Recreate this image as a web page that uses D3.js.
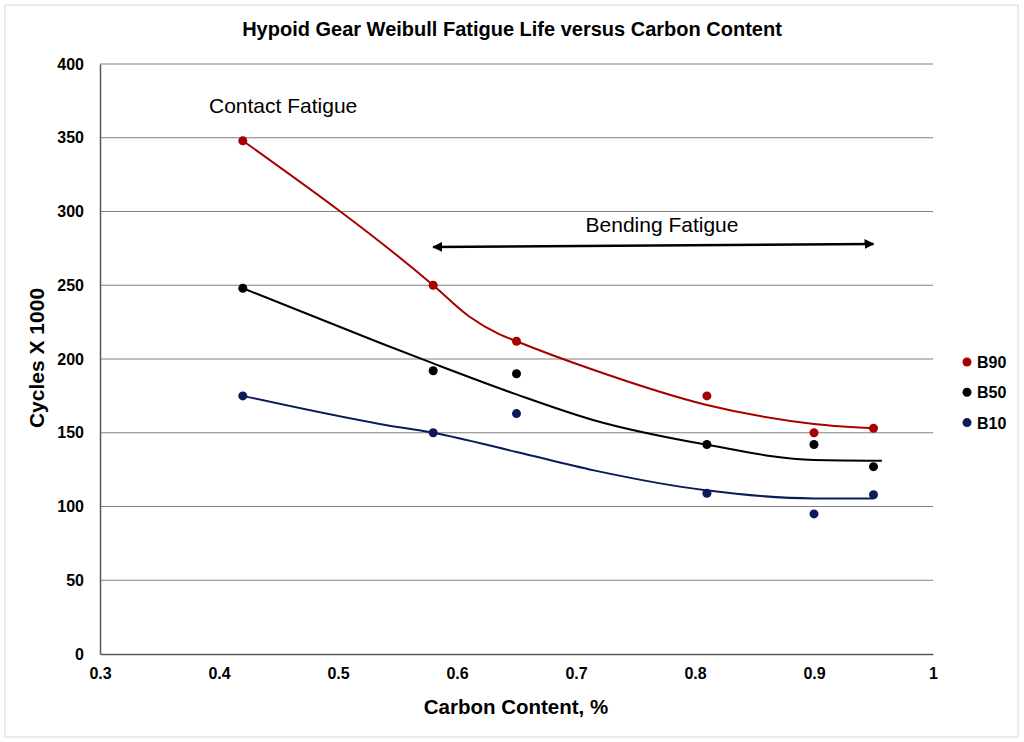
<!DOCTYPE html>
<html>
<head>
<meta charset="utf-8">
<script src="https://cdn.jsdelivr.net/npm/d3@7"></script>
<style>
  body { margin: 0; background: #fff; }
  svg { display: block; }
</style>
</head>
<body>
<div id="chart-area"></div>
<script>
// measured points
var carbon = [0.42, 0.58, 0.65, 0.81, 0.9, 0.95];
var b90 = [348, 250, 212, 175, 150, 153];
var b50 = [248, 192, 190, 142, 142, 127];
var b10 = [175, 150, 163, 109, 95, 108];

// hand drawn trend lines
var b90CurveX = [0.42, 0.58, 0.61, 0.635, 0.65, 0.715, 0.809, 0.90, 0.95];
var b90CurveY = [348, 250, 229, 217, 212, 192.5, 169, 156, 153];
var b50CurveX = [0.42, 0.535, 0.58, 0.65, 0.715, 0.809, 0.90, 0.957];
var b50CurveY = [248, 211, 197, 176, 158.5, 142, 131.5, 131];
var b10CurveX = [0.42, 0.535, 0.58, 0.65, 0.715, 0.809, 0.90, 0.95];
var b10CurveY = [175, 156, 150, 137, 124.5, 111, 105.5, 105.5];

var seriesNames = ["B90", "B50", "B10"];
var seriesColors = ["#a80000", "#000000", "#0b1a58"];
var xTicks = [0.3, 0.4, 0.5, 0.6, 0.7, 0.8, 0.9, 1];
var yTicks = [0, 50, 100, 150, 200, 250, 300, 350, 400];

var arial = "'Liberation Sans', Arial, sans-serif";

var svg = d3.select("#chart-area").append("svg")
    .attr("width", 1024)
    .attr("height", 742);

svg.append("rect")
    .attr("x", 5).attr("y", 5)
    .attr("width", 1013).attr("height", 732)
    .attr("fill", "#fff")
    .attr("stroke", "#d9d9d9");

var x = d3.scaleLinear().domain([0.3, 1]).range([100, 933]);
var y = d3.scaleLinear().domain([0, 400]).range([654, 64]);

// grid
svg.append("g")
    .selectAll("line").data(yTicks.filter((d) => d > 0))
    .enter().append("line")
        .attr("x1", x(0.3)).attr("x2", x(1))
        .attr("y1", (d) => y(d)).attr("y2", (d) => y(d))
        .attr("stroke", "#808080")
        .attr("stroke-width", 1.2);

// axes
var yAxis = svg.append("g")
    .attr("transform", "translate(" + x(0.3) + ",0)")
    .call(d3.axisLeft(y).tickValues(yTicks).tickSize(0).tickPadding(16));
var xAxis = svg.append("g")
    .attr("transform", "translate(0," + y(0) + ")")
    .call(d3.axisBottom(x).tickValues(xTicks).tickSize(0).tickPadding(14)
        .tickFormat((d) => d3.format("~g")(d)));

yAxis.select(".domain").attr("stroke", "#595959").attr("stroke-width", 1.5);
xAxis.select(".domain").attr("stroke", "#595959").attr("stroke-width", 1.5);
yAxis.selectAll("text")
    .attr("font-family", arial).attr("font-weight", "bold")
    .attr("font-size", 16).attr("fill", "#000");
xAxis.selectAll("text")
    .attr("font-family", arial).attr("font-weight", "bold")
    .attr("font-size", 16).attr("fill", "#000");

// titles
svg.append("text")
    .attr("x", 512).attr("y", 36)
    .attr("text-anchor", "middle")
    .attr("font-family", arial).attr("font-weight", "bold")
    .attr("font-size", 20)
    .text("Hypoid Gear Weibull Fatigue Life versus Carbon Content");

svg.append("text")
    .attr("x", 516).attr("y", 714)
    .attr("text-anchor", "middle")
    .attr("font-family", arial).attr("font-weight", "bold")
    .attr("font-size", 20.5)
    .text("Carbon Content, %");

svg.append("text")
    .attr("transform", "translate(44,358) rotate(-90)")
    .attr("text-anchor", "middle")
    .attr("font-family", arial).attr("font-weight", "bold")
    .attr("font-size", 21)
    .text("Cycles X 1000");

// trend lines
var line = d3.line()
    .x((d) => x(d[0]))
    .y((d) => y(d[1]))
    .curve(d3.curveMonotoneX);

var curves = [
    d3.zip(b90CurveX, b90CurveY),
    d3.zip(b50CurveX, b50CurveY),
    d3.zip(b10CurveX, b10CurveY)
];

svg.append("g").selectAll("path").data(curves)
    .enter().append("path")
        .attr("d", (d) => line(d))
        .attr("fill", "none")
        .attr("stroke", (d, i) => seriesColors[i])
        .attr("stroke-width", 2);

// points
var allSeries = [b90, b50, b10];
allSeries.forEach((vals, i) => {
    svg.append("g").selectAll("circle").data(vals)
        .enter().append("circle")
            .attr("cx", (d, j) => x(carbon[j]))
            .attr("cy", (d) => y(d))
            .attr("r", 4.5)
            .attr("fill", seriesColors[i]);
});

// annotations
svg.append("text")
    .attr("x", 209).attr("y", 113)
    .attr("font-family", arial)
    .attr("font-size", 21)
    .text("Contact Fatigue");

svg.append("text")
    .attr("x", 662).attr("y", 232)
    .attr("text-anchor", "middle")
    .attr("font-family", arial)
    .attr("font-size", 21)
    .text("Bending Fatigue");

var defs = svg.append("defs");
defs.append("marker")
    .attr("id", "arrow")
    .attr("viewBox", "0 0 10 10")
    .attr("refX", 9).attr("refY", 5)
    .attr("markerWidth", 4).attr("markerHeight", 4)
    .attr("orient", "auto-start-reverse")
    .append("path")
        .attr("d", "M0,0 L10,5 L0,10 z")
        .attr("fill", "#000");

svg.append("line")
    .attr("x1", x(0.58)).attr("y1", y(276))
    .attr("x2", x(0.95)).attr("y2", y(278))
    .attr("stroke", "#000")
    .attr("stroke-width", 2.5)
    .attr("marker-start", "url(#arrow)")
    .attr("marker-end", "url(#arrow)");

// legend
var legend = svg.append("g").selectAll("g").data(seriesNames)
    .enter().append("g")
        .attr("transform", (d, i) => "translate(967," + (362 + i * 30.3) + ")");
legend.append("circle")
    .attr("r", 4.5)
    .attr("fill", (d, i) => seriesColors[i]);
legend.append("text")
    .attr("x", 10).attr("y", 6)
    .attr("font-family", arial).attr("font-weight", "bold")
    .attr("font-size", 16)
    .text((d) => d);
</script>
</body>
</html>
